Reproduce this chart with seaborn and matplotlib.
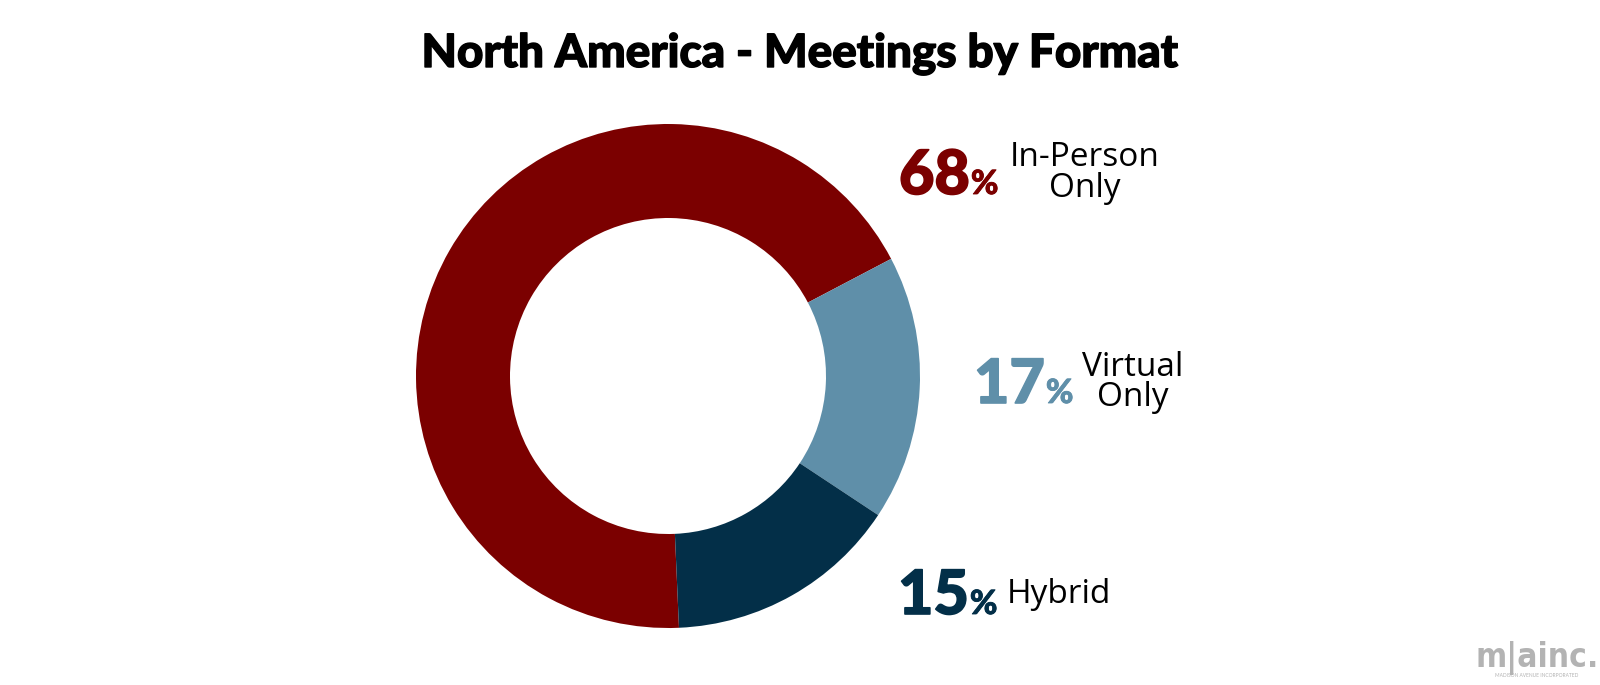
import matplotlib
matplotlib.use('Agg')
import matplotlib.pyplot as plt
import matplotlib.patheffects as pe
import seaborn as sns

# data
formats = ['In-Person Only', 'Virtual Only', 'Hybrid']
shares = [68, 17, 15]
label_lines = [['In-Person', 'Only'], ['Virtual', 'Only'], ['Hybrid']]
colors = ['#7b0000', '#5f8fa9', '#032f48']
title = 'North America - Meetings by Format'

sns.set_theme(style='white')
plt.rcParams['font.family'] = ['Lato', 'DejaVu Sans']

W, H = 1600, 685
fig = plt.figure(figsize=(W / 100, H / 100), dpi=100)
fig.patch.set_facecolor('white')


def fx(px):
    return px / W


def fy(py):
    return 1 - py / H


# donut
cx, cy, R, r_in = 668, 376, 252, 158
ax = fig.add_axes([fx(cx - R), fy(cy + R), 2 * R / W, 2 * R / H])
palette = sns.color_palette(colors)
ax.pie(shares, colors=palette, startangle=-87.5, counterclock=False,
       wedgeprops=dict(width=1 - r_in / R, edgecolor='none'))
ax.set_xlim(-1, 1)
ax.set_ylim(-1, 1)
ax.axis('off')

# title
fig.text(fx(800), fy(67), title, ha='center', va='baseline',
         fontsize=33, fontweight='black', color='black',
         path_effects=[pe.withStroke(linewidth=1.0, foreground='black')])

# labels: number left x and baseline (px)
num_pos = [(899, 194), (974, 403), (898, 614)]

renderer = fig.canvas.get_renderer()
for v, c, lines, (nx, ny) in zip(shares, colors, label_lines, num_pos):
    t = fig.text(fx(nx), fy(ny), str(v), ha='left', va='baseline',
                 fontsize=44, fontweight='black', color=c,
                 path_effects=[pe.withStroke(linewidth=1.2, foreground=c)])
    bb = t.get_window_extent(renderer)
    p = fig.text((bb.x1 + 1) / W, fy(ny), '%', ha='left', va='baseline',
                 fontsize=24, fontweight='black', color=c,
                 path_effects=[pe.withStroke(linewidth=0.6, foreground=c)])
    pb = p.get_window_extent(renderer)
    # baseline of the last text line
    ty = ny + 3 if len(lines) > 1 else ny - 11
    gap = 11 if len(lines) > 1 and v != 17 else 9
    fig.text((pb.x1 + gap) / W, fy(ty), '\n'.join(lines), ha='left', va='baseline',
             multialignment='center', linespacing=0.9,
             fontsize=24, color='black', family=['Open Sans', 'DejaVu Sans'])

# logo
fig.text(fx(1537), fy(667), 'm|ainc.', ha='center', va='baseline', fontsize=24,
         fontweight='bold', fontstretch='condensed', color='#b3b3b3',
         family=['DejaVu Sans'])
fig.text(fx(1537), fy(677), 'MADISON AVENUE INCORPORATED', ha='center', va='baseline',
         fontsize=3.5, color='#b3b3b3')

fig.savefig('out.png', dpi=100, facecolor='white')
